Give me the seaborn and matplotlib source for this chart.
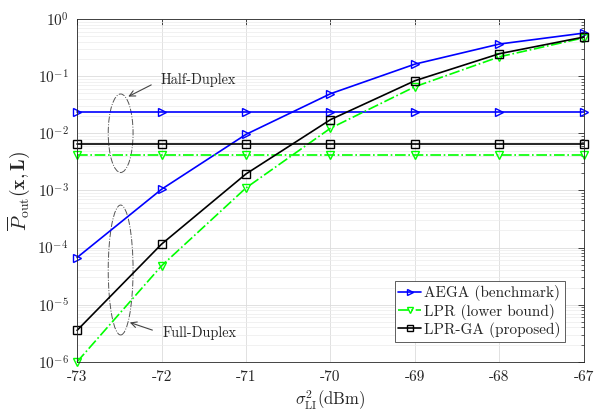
import numpy as np
import pandas as pd
import matplotlib
matplotlib.use("Agg")
import matplotlib.pyplot as plt
import seaborn as sns
from matplotlib.patches import Ellipse

# data
sigma_li = [-73, -72, -71, -70, -69, -68, -67]
x_ticklabels = ["-73", "-72", "-71", "-70", "-69", "-68", "-67"]

aega_fd = [6.7e-5, 1.05e-3, 9.6e-3, 0.0494, 0.163, 0.366, 0.569]
lpr_fd = [1.0e-6, 4.8e-5, 1.11e-3, 0.0123, 0.0656, 0.219, 0.471]
lprga_fd = [3.56e-6, 1.15e-4, 1.95e-3, 0.0174, 0.0835, 0.248, 0.485]

aega_hd = [0.0234] * 7
lpr_hd = [0.0042] * 7
lprga_hd = [0.00653] * 7

labels = ["AEGA (benchmark)", "LPR (lower bound)", "LPR-GA (proposed)"]
colors = ["#0000ff", "#00ff00", "#000000"]
markers = [">", "v", "s"]
styles = ["-", "-.", "-"]

sns.set_theme(style="whitegrid")
plt.rcParams["font.family"] = ["cmr10", "DejaVu Serif"]
plt.rcParams["mathtext.fontset"] = "cm"
plt.rcParams["axes.formatter.use_mathtext"] = True

fig = plt.figure(figsize=(6.02, 4.15), dpi=100)
ax = fig.add_axes([0.128, 0.128, 0.842, 0.826])
ax.set_facecolor("white")

fd = [aega_fd, lpr_fd, lprga_fd]
hd = [aega_hd, lpr_hd, lprga_hd]
for i in range(3):
    for vals, lab in [(hd[i], "_nolegend_"), (fd[i], labels[i])]:
        df = pd.DataFrame({"x": sigma_li, "y": vals})
        sns.lineplot(data=df, x="x", y="y", ax=ax, color=colors[i],
                     linestyle=styles[i], marker=markers[i], markersize=5.4,
                     markerfacecolor="none", markeredgecolor=colors[i],
                     markeredgewidth=1.0, linewidth=1.2, label=lab,
                     legend=False, clip_on=False)

ax.set_yscale("log")
ax.set_ylim(1e-6, 1)
ax.set_xlim(-73, -67)
ax.set_xticks(sigma_li)
ax.set_xticklabels(x_ticklabels)
ax.set_yticks([1e-6, 1e-5, 1e-4, 1e-3, 1e-2, 1e-1, 1])
ax.set_yticklabels([r"$10^{-6}$", r"$10^{-5}$", r"$10^{-4}$", r"$10^{-3}$",
                    r"$10^{-2}$", r"$10^{-1}$", r"$10^{0}$"])
ax.tick_params(axis="both", which="both", direction="in", top=True, right=True,
               labelsize=11, colors="#262626", pad=6)
ax.tick_params(which="major", length=4, width=0.6)
ax.tick_params(which="minor", length=2, width=0.5)
ax.grid(True, which="major", color="#dcdcdc", linewidth=0.6)
ax.grid(True, which="minor", axis="y", color="#ececec", linewidth=0.5)
for s in ax.spines.values():
    s.set_color("#262626")
    s.set_linewidth(0.6)

ax.set_xlabel(r"$\sigma^2_{\rm LI}$(dBm)", fontsize=12, labelpad=3)
ax.set_ylabel(r"$\overline{P}_{\rm out}(\mathbf{x},\mathbf{L})$", fontsize=14,
              labelpad=4)

# annotation ellipses
ax.add_patch(Ellipse((0.086, 0.667), 0.049, 0.229, transform=ax.transAxes,
                     fill=False, ls="-.", lw=0.7, ec="#555555"))
ax.add_patch(Ellipse((0.086, 0.268), 0.049, 0.379, transform=ax.transAxes,
                     fill=False, ls="-.", lw=0.7, ec="#555555"))
ax.annotate("Half-Duplex", xy=(0.101, 0.774), xytext=(0.165, 0.822),
            xycoords="axes fraction", textcoords="axes fraction", fontsize=10.3,
            va="center", arrowprops=dict(arrowstyle="->", color="#444444", lw=0.8,
                                         relpos=(0, 0.5), shrinkA=5, shrinkB=0))
ax.annotate("Full-Duplex", xy=(0.104, 0.115), xytext=(0.168, 0.083),
            xycoords="axes fraction", textcoords="axes fraction", fontsize=10.3,
            va="center", arrowprops=dict(arrowstyle="->", color="#444444", lw=0.8,
                                         relpos=(0, 0.5), shrinkA=5, shrinkB=0))

leg = ax.legend(loc="lower right", bbox_to_anchor=(0.962, 0.059), fontsize=11,
                fancybox=False, framealpha=1, edgecolor="#444444",
                handlelength=1.5, handletextpad=0.2, borderpad=0.25,
                labelspacing=0.15, borderaxespad=0, markerscale=0.75)
leg.get_frame().set_linewidth(0.6)

fig.savefig("out.png", dpi=100)
